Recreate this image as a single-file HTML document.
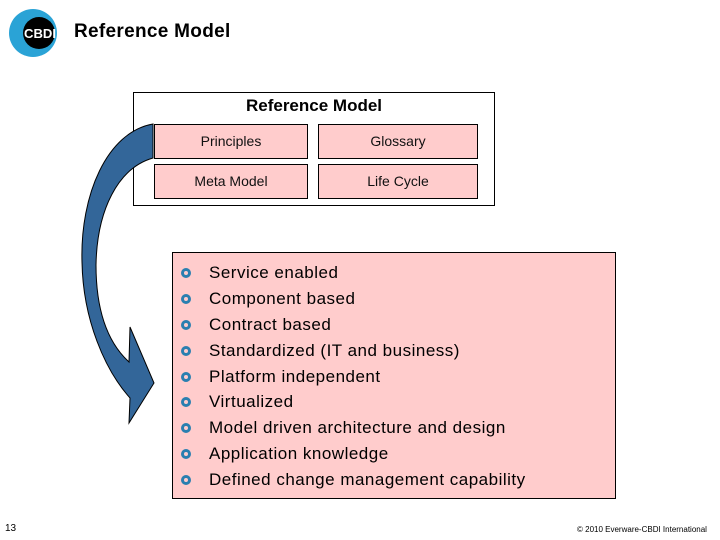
<!DOCTYPE html>
<html><head><style>
body{margin:0;width:720px;height:540px;background:#fff;position:relative;overflow:hidden;font-family:"Liberation Sans",Arial,sans-serif;}
.a{position:absolute;}
.bx{position:absolute;background:#ffcccc;border:1px solid #000;box-sizing:border-box;font-size:14px;color:#111;text-align:center;}
.li{position:absolute;left:209px;font-size:17px;letter-spacing:0.5px;color:#000;white-space:nowrap;}
.bu{position:absolute;left:181px;width:10px;height:10px;border-radius:50%;background:#2a7fb0;box-sizing:border-box;}
.bu::after{content:"";position:absolute;left:3px;top:3px;width:4px;height:4px;border-radius:50%;background:#ffcccc;}
</style></head><body>
<svg class="a" style="left:0;top:0" width="720" height="540">
<circle cx="33" cy="33" r="24" fill="#2aa3d6"/>
<circle cx="39" cy="33" r="16" fill="#000"/>
<text x="40" y="38" font-family="Liberation Sans" font-weight="bold" font-size="13" fill="#fff" text-anchor="middle" textLength="32" lengthAdjust="spacingAndGlyphs">CBDI</text>
</svg>
<div class="a" style="left:74px;top:21px;font-size:19px;letter-spacing:0.3px;font-weight:bold;">Reference Model</div>
<div class="a" style="left:133px;top:92px;width:362px;height:114px;border:1px solid #000;box-sizing:border-box;"></div>
<div class="a" style="left:133px;top:96px;width:362px;text-align:center;font-size:17px;font-weight:bold;">Reference Model</div>
<div class="bx" style="left:154px;top:124px;width:154px;height:35px;line-height:33px;">Principles</div>
<div class="bx" style="left:318px;top:124px;width:160px;height:35px;line-height:33px;">Glossary</div>
<div class="bx" style="left:154px;top:164px;width:154px;height:35px;line-height:33px;">Meta Model</div>
<div class="bx" style="left:318px;top:164px;width:160px;height:35px;line-height:33px;">Life Cycle</div>
<div class="a" style="left:172px;top:252px;width:444px;height:247px;background:#ffcccc;border:1px solid #000;box-sizing:border-box;"></div>
<svg class="a" style="left:0;top:0" width="720" height="540">
<path d="M153,124 C107,132 80,195 82,262 C83,320 105,370 130,398 L129,423 L154,383 L130,327 L129,362 C105,340 96,305 96,265 C97,210 118,168 153,158 Z" fill="#336699" stroke="#000" stroke-width="1"/>
</svg>
<div class="bu" style="top:268px"></div><div class="li" style="top:263px">Service enabled</div>
<div class="bu" style="top:294px"></div><div class="li" style="top:289px">Component based</div>
<div class="bu" style="top:320px"></div><div class="li" style="top:315px">Contract based</div>
<div class="bu" style="top:346px"></div><div class="li" style="top:341px">Standardized (IT and business)</div>
<div class="bu" style="top:372px"></div><div class="li" style="top:367px">Platform independent</div>
<div class="bu" style="top:397px"></div><div class="li" style="top:392px">Virtualized</div>
<div class="bu" style="top:423px"></div><div class="li" style="top:418px">Model driven architecture and design</div>
<div class="bu" style="top:449px"></div><div class="li" style="top:444px">Application knowledge</div>
<div class="bu" style="top:475px"></div><div class="li" style="top:470px">Defined change management capability</div>
<div class="a" style="left:5px;top:523px;font-size:10px;">13</div>
<div class="a" style="left:577px;top:525px;font-size:8px;">© 2010 Everware-CBDI International</div>
</body></html>
